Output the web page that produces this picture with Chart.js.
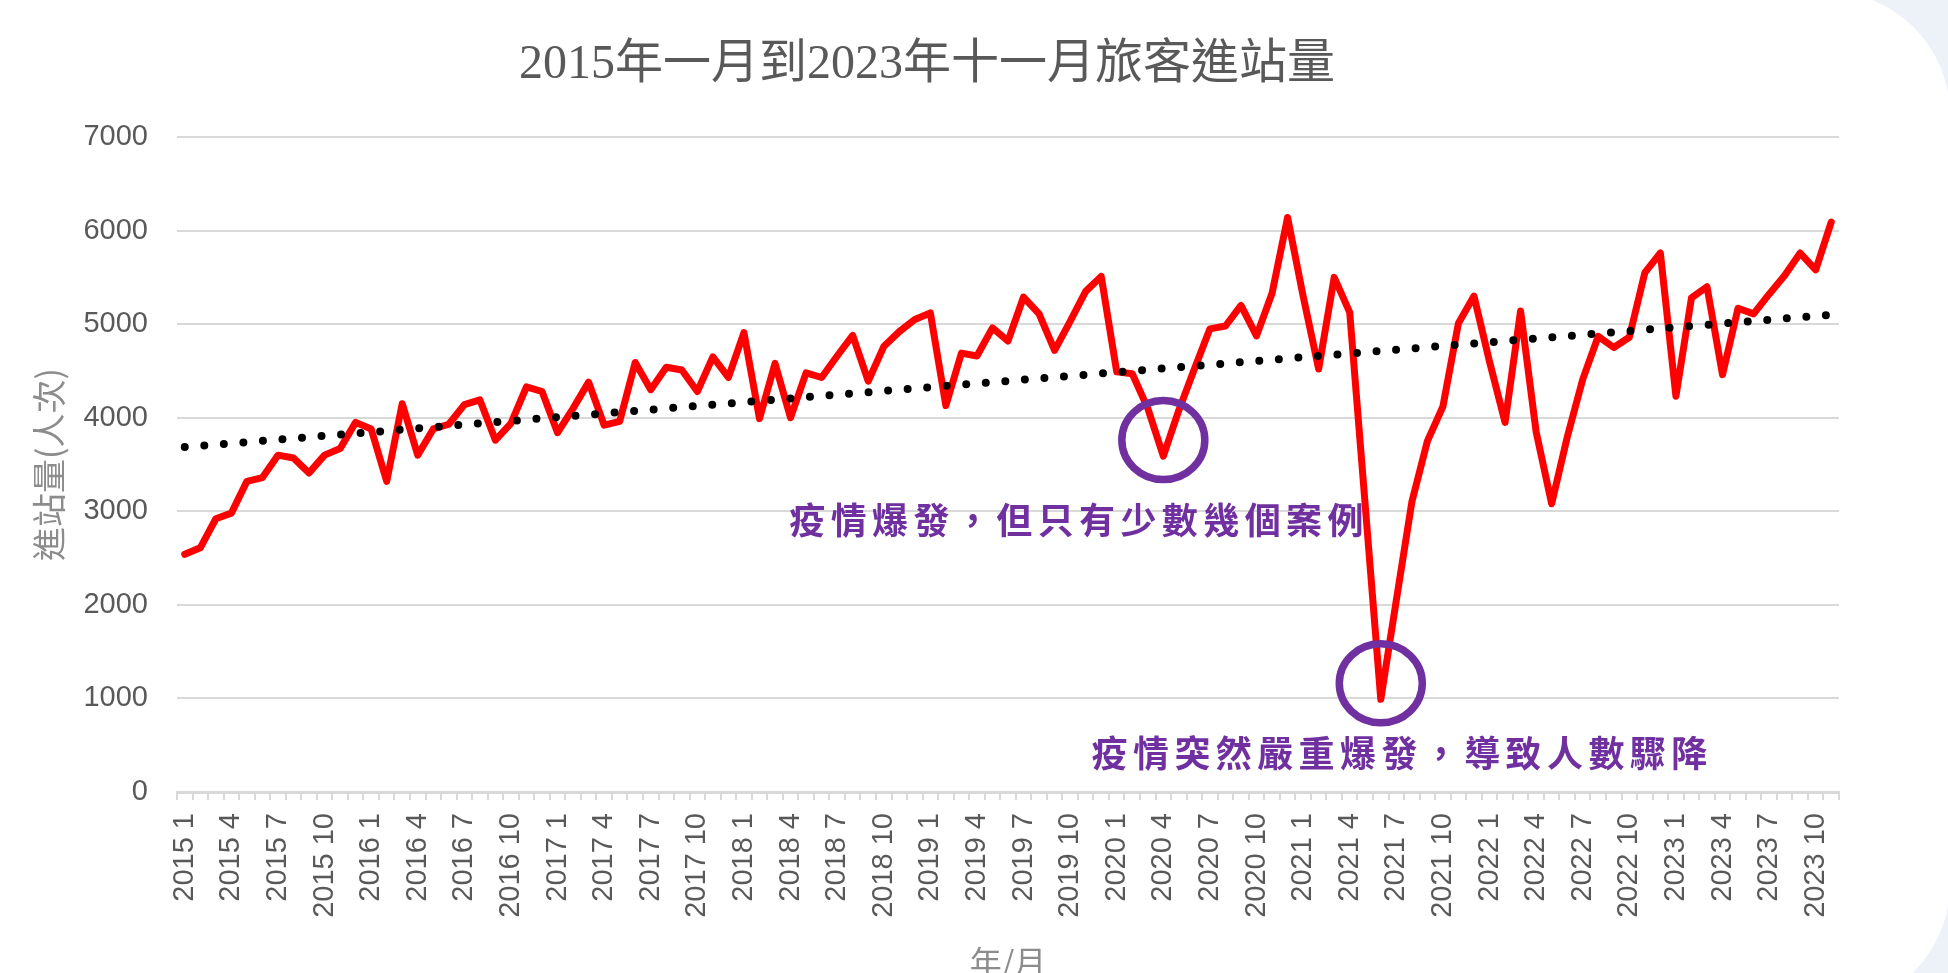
<!DOCTYPE html>
<html><head><meta charset="utf-8">
<script src="https://cdn.jsdelivr.net/npm/chart.js@4.4.1/dist/chart.umd.min.js"></script>
<style>
html,body{margin:0;padding:0;width:1948px;height:973px;overflow:hidden;background:#edf2f9;}
#card{position:absolute;left:-200px;top:-9px;width:2150px;height:1017px;background:#ffffff;border-radius:0 124px 124px 0;}
#wrap{position:absolute;left:0;top:0;width:1854px;height:1000px;}
canvas{display:block;}
</style></head><body>
<div id="card"></div>
<div id="wrap"><canvas id="c" width="1854" height="1000" style="width:1854px;height:1000px"></canvas></div>
<script>
// ---- data ----
const categories = [
 '2015 1','2015 2','2015 3','2015 4','2015 5','2015 6','2015 7','2015 8','2015 9','2015 10','2015 11','2015 12',
 '2016 1','2016 2','2016 3','2016 4','2016 5','2016 6','2016 7','2016 8','2016 9','2016 10','2016 11','2016 12',
 '2017 1','2017 2','2017 3','2017 4','2017 5','2017 6','2017 7','2017 8','2017 9','2017 10','2017 11','2017 12',
 '2018 1','2018 2','2018 3','2018 4','2018 5','2018 6','2018 7','2018 8','2018 9','2018 10','2018 11','2018 12',
 '2019 1','2019 2','2019 3','2019 4','2019 5','2019 6','2019 7','2019 8','2019 9','2019 10','2019 11','2019 12',
 '2020 1','2020 2','2020 3','2020 4','2020 5','2020 6','2020 7','2020 8','2020 9','2020 10','2020 11','2020 12',
 '2021 1','2021 2','2021 3','2021 4','2021 5','2021 6','2021 7','2021 8','2021 9','2021 10','2021 11','2021 12',
 '2022 1','2022 2','2022 3','2022 4','2022 5','2022 6','2022 7','2022 8','2022 9','2022 10','2022 11','2022 12',
 '2023 1','2023 2','2023 3','2023 4','2023 5','2023 6','2023 7','2023 8','2023 9','2023 10','2023 11'
];
const passengers2015 = [2540,2610,2920,2980,3320,3360,3600,3570,3410,3600,3670,3950];
const passengers2016 = [3880,3320,4150,3600,3880,3930,4140,4190,3760,3940,4330,4280];
const passengers2017 = [3840,4100,4380,3920,3960,4590,4300,4540,4510,4280,4650,4430];
const passengers2018 = [4910,3990,4580,4000,4480,4430,4660,4880,4390,4760,4920,5050];
const passengers2019 = [5120,4130,4690,4660,4960,4820,5290,5110,4720,5030,5350,5510];
const passengers2020 = [4490,4470,4100,3590,4080,4520,4950,4980,5200,4875,5330,6140];
const passengers2021 = [5300,4520,5500,5125,3060,990,2050,3100,3750,4120,5010,5300];
const passengers2022 = [4600,3950,5140,3850,3080,3790,4410,4870,4750,4860,5550,5760];
const passengers2023 = [4230,5280,5400,4460,5170,5110,5320,5520,5760,5580,6090];
const passengers = [].concat(passengers2015,passengers2016,passengers2017,passengers2018,
  passengers2019,passengers2020,passengers2021,passengers2022,passengers2023);
// linear trend line, end values
const trendStart = 3686;
const trendEnd = 5100;
const yTickValues = [0,1000,2000,3000,4000,5000,6000,7000];
const titleText = '2015年一月到2023年十一月旅客進站量';
const yTitle = '進站量(人次)';
const xTitle = '年/月';
const circledMonths = ['2020 4','2021 6'];
const notes = [
  {text:'疫情爆發，但只有少數幾個案例', at:57.4, value:2906},
  {text:'疫情突然嚴重爆發，導致人數驟降', at:78.2, value:417}
];

// ---- drawing ----
const decorPlugin = {
  id:'decor',
  afterDraw(chart){
    const ctx = chart.ctx, xs = chart.scales.x, ys = chart.scales.y;
    ctx.save();
    // title
    ctx.fillStyle = '#595959';
    ctx.font = '48px "Liberation Serif", "Noto Sans CJK TC"';
    ctx.textAlign = 'center';
    ctx.textBaseline = 'alphabetic';
    ctx.fillText(titleText, 927, 78);
    // circles
    ctx.strokeStyle = '#7030A0';
    ctx.lineWidth = 7.5;
    circledMonths.forEach(m => {
      const i = categories.indexOf(m);
      const cx = xs.getPixelForValue(i);
      const cy = ys.getPixelForValue(passengers[i]) - 16;
      ctx.beginPath();
      ctx.ellipse(cx, cy, 41.5, 39.5, 0, 0, Math.PI*2);
      ctx.stroke();
    });
    // notes
    ctx.fillStyle = '#7030A0';
    ctx.font = 'bold 36px "Noto Sans CJK TC"';
    ctx.textAlign = 'center';
    ctx.textBaseline = 'middle';
    const adv = 41.4;
    notes.forEach(n => {
      const cx = xs.getPixelForValue(n.at);
      const cy = ys.getPixelForValue(n.value);
      const chars = Array.from(n.text);
      const start = cx - (chars.length - 1) * adv / 2;
      chars.forEach((ch, k) => ctx.fillText(ch, start + k * adv, cy));
    });
    ctx.restore();
  }
};

new Chart(document.getElementById('c'), {
  type:'line',
  data:{
    labels: categories,
    datasets:[
      {label:'進站量', data: passengers, borderColor:'#ff0000', backgroundColor:'#ff0000',
       borderWidth:7, pointRadius:0, tension:0, fill:false,
       borderJoinStyle:'round', borderCapStyle:'round', order:2},
      {label:'趨勢線', data:[{x:categories[0], y:trendStart},{x:categories[categories.length-1], y:trendEnd}],
       borderColor:'#000000', borderWidth:8, borderDash:[0,19.6], borderCapStyle:'round',
       pointRadius:0, tension:0, fill:false, order:1}
    ]
  },
  options:{
    responsive:false, animation:false,
    layout:{padding:{top:137, right:15, left:0, bottom:0}},
    plugins:{legend:{display:false}, tooltip:{enabled:false}, title:{display:false}},
    scales:{
      x:{
        offset:true,
        grid:{offset:true, drawOnChartArea:false, drawTicks:true, tickLength:8, color:'#d9d9d9', lineWidth:2},
        border:{display:true, color:'#d9d9d9', width:3},
        ticks:{autoSkip:false, minRotation:90, maxRotation:90, padding:13, color:'#595959',
          font:{family:'"Liberation Sans", Arial, sans-serif', size:29},
          callback:(v,i)=> i % 3 === 0 ? categories[i] : ''},
        title:{display:true, text:xTitle, color:'#8c8c8c',
          font:{family:'"Noto Sans CJK TC"', size:32}, padding:{top:0,bottom:19}},
        afterFit:(s)=>{ s.height = 208; s.paddingLeft = 0; s.paddingRight = 0; }
      },
      y:{
        min:0, max:7000,
        afterBuildTicks:(s)=>{ s.ticks = yTickValues.map(v=>({value:v})); },
        grid:{color:'#d9d9d9', lineWidth:2, drawTicks:false},
        border:{display:false},
        ticks:{padding:29, color:'#595959', font:{family:'"Liberation Sans", Arial, sans-serif', size:29},
          callback:(v)=> String(v)},
        title:{display:true, text:yTitle, color:'#8c8c8c',
          font:{family:'"Noto Sans CJK TC"', size:34}, padding:{top:29,bottom:0}},
        afterFit:(s)=>{ s.width = 177; }
      }
    }
  },
  plugins:[decorPlugin]
});
</script>
</body></html>
